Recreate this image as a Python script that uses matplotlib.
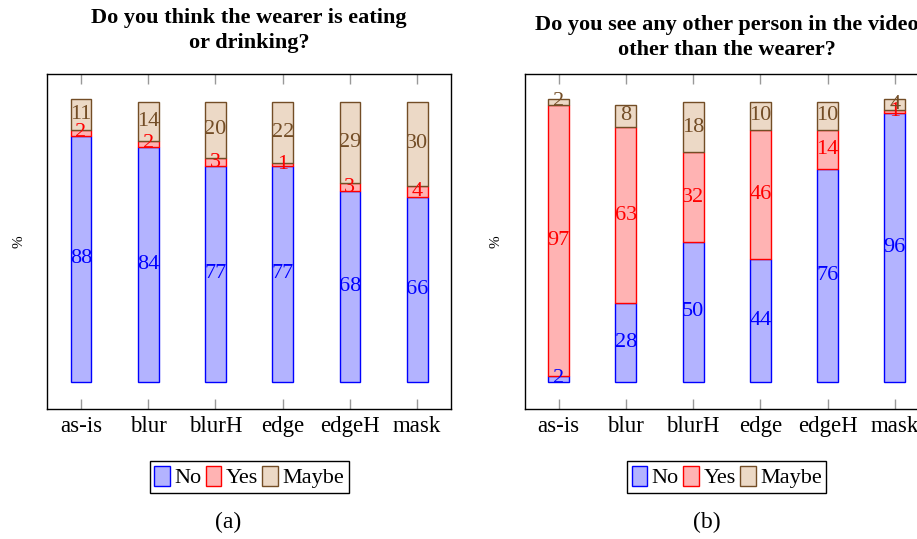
import matplotlib.pyplot as plt
from matplotlib.patches import Patch

plt.rcParams['font.family'] = ['Liberation Serif', 'DejaVu Serif']

methods = ['as-is', 'blur', 'blurH', 'edge', 'edgeH', 'mask']
answers = ['No', 'Yes', 'Maybe']

# answer shares (%) per method
eating_no = [88, 84, 77, 77, 68, 66]
eating_yes = [2, 2, 3, 1, 3, 4]
eating_maybe = [11, 14, 20, 22, 29, 30]

person_no = [2, 28, 50, 44, 76, 96]
person_yes = [97, 63, 32, 46, 14, 1]
person_maybe = [2, 8, 18, 10, 10, 4]

titles = ['Do you think the wearer is eating\nor drinking?',
          'Do you see any other person in the video\nother than the wearer?']

# pgfplots bar cycle: draw colour, fill colour
edge_colors = ['#0000FF', '#FF0000', '#734D26']
fill_colors = ['#B3B3FF', '#FFB3B3', '#ECD9C6']


def stacked(ax, series, title, pad):
    x = range(len(methods))
    bottom = [0] * len(methods)
    for vals, ec, fc in zip(series, edge_colors, fill_colors):
        ax.bar(x, vals, 0.31, bottom=bottom, color=fc, edgecolor=ec, linewidth=1.0)
        for i, v in enumerate(vals):
            ax.text(i, bottom[i] + v / 2, str(v), color=ec, fontsize=16,
                    ha='center', va='center')
        bottom = [b + v for b, v in zip(bottom, vals)]
    ax.set_xlim(-0.5, len(methods) - 0.5)
    ax.set_ylim(-9.8, 110)
    ax.set_xticks(list(x))
    ax.set_xticklabels(methods, fontsize=16.5)
    ax.set_yticks([])
    ax.tick_params(axis='x', direction='in', top=True, length=7, color='#999999',
                   width=1, pad=5)
    for s in ax.spines.values():
        s.set_linewidth(1.0)
    ax.set_ylabel('%', fontsize=11)
    ax.yaxis.set_label_coords(-0.055, 0.5)
    ax.set_title(title, fontsize=16, fontweight='bold', pad=pad, linespacing=1.3)
    handles = [Patch(facecolor=fc, edgecolor=ec, linewidth=1.0, label=a)
               for a, ec, fc in zip(answers, edge_colors, fill_colors)]
    leg = ax.legend(handles=handles, loc='center', bbox_to_anchor=(0.5, -0.203),
                    ncol=3, fontsize=16, fancybox=False, edgecolor='black',
                    framealpha=1, handlelength=0.7, handleheight=1.0,
                    handletextpad=0.2, columnspacing=0.2, borderpad=0.2,
                    borderaxespad=0)
    leg.get_frame().set_linewidth(1.0)


fig = plt.figure(figsize=(9.17, 5.39), dpi=100)
ax1 = fig.add_axes([0.0516, 0.2412, 0.44, 0.6215])
ax2 = fig.add_axes([0.5725, 0.2412, 0.44, 0.6215])

stacked(ax1, [eating_no, eating_yes, eating_maybe], titles[0], 19)
stacked(ax2, [person_no, person_yes, person_maybe], titles[1], 14)

fig.text(228 / 917, 1 - 522 / 539, '(a)', fontsize=17, ha='center', va='center')
fig.text(707 / 917, 1 - 522 / 539, '(b)', fontsize=17, ha='center', va='center')

fig.savefig('out.png', dpi=100)
